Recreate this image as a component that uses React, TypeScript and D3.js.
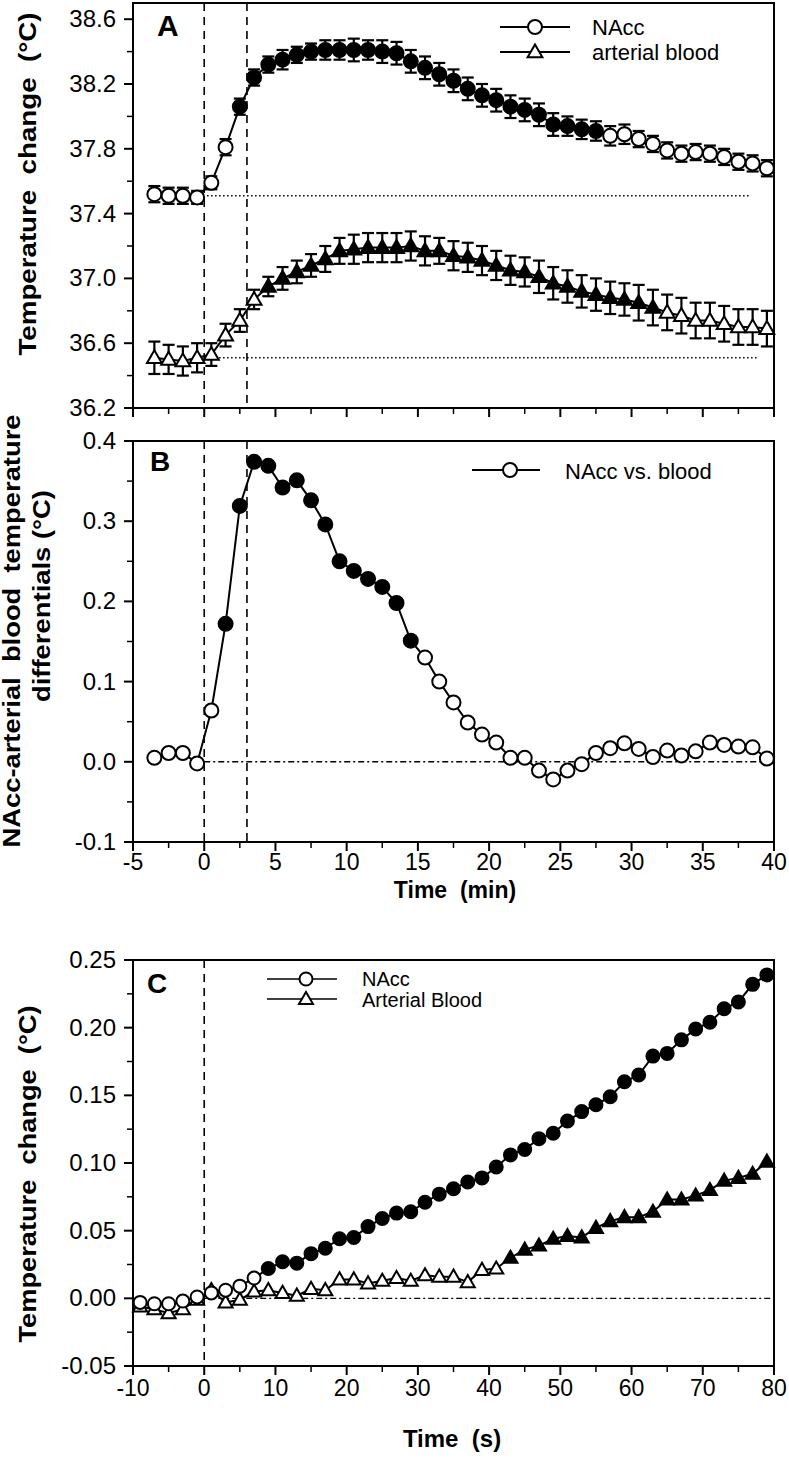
import React from 'react';
import * as d3 from 'd3';

// ---------- Panel A & B: time in minutes ----------
const timeMin = [
  -3.5, -2.5, -1.5, -0.5, 0.5, 1.5, 2.5, 3.5, 4.5, 5.5, 6.5, 7.5, 8.5, 9.5, 10.5,
  11.5, 12.5, 13.5, 14.5, 15.5, 16.5, 17.5, 18.5, 19.5, 20.5, 21.5, 22.5, 23.5,
  24.5, 25.5, 26.5, 27.5, 28.5, 29.5, 30.5, 31.5, 32.5, 33.5, 34.5, 35.5, 36.5,
  37.5, 38.5, 39.5,
];
const nAccA = [
  37.52, 37.51, 37.51, 37.5, 37.59, 37.81, 38.06, 38.24, 38.32, 38.35, 38.38, 38.4,
  38.41, 38.41, 38.41, 38.41, 38.4, 38.39, 38.34, 38.3, 38.26, 38.22, 38.17, 38.13,
  38.1, 38.06, 38.04, 38.01, 37.95, 37.94, 37.92, 37.91, 37.88, 37.89, 37.86, 37.83,
  37.79, 37.77, 37.78, 37.77, 37.75, 37.72, 37.71, 37.68,
];
const nAccAErr = [
  0.05, 0.05, 0.05, 0.04, 0.04, 0.05, 0.05, 0.05, 0.05, 0.06, 0.05, 0.05, 0.06, 0.06,
  0.07, 0.06, 0.07, 0.07, 0.07, 0.07, 0.07, 0.07, 0.07, 0.07, 0.07, 0.07, 0.07, 0.07,
  0.07, 0.06, 0.06, 0.06, 0.06, 0.06, 0.05, 0.05, 0.05, 0.05, 0.05, 0.05, 0.05, 0.05,
  0.05, 0.05,
];
const bloodA = [
  36.51, 36.5, 36.49, 36.51, 36.53, 36.65, 36.74, 36.87, 36.95, 37.0, 37.04, 37.08,
  37.12, 37.17, 37.18, 37.19, 37.19, 37.19, 37.2, 37.17, 37.17, 37.14, 37.13, 37.11,
  37.08, 37.05, 37.04, 37.01, 36.97, 36.95, 36.92, 36.9, 36.88, 36.87, 36.85, 36.82,
  36.79, 36.77, 36.74, 36.74, 36.72, 36.7, 36.7, 36.69,
];
const bloodAErr = [
  0.1, 0.09, 0.09, 0.09, 0.07, 0.07, 0.07, 0.06, 0.06, 0.07, 0.07, 0.07, 0.08, 0.08,
  0.09, 0.09, 0.09, 0.09, 0.09, 0.09, 0.08, 0.09, 0.09, 0.09, 0.09, 0.09, 0.09, 0.1,
  0.1, 0.1, 0.1, 0.1, 0.1, 0.1, 0.11, 0.11, 0.11, 0.11, 0.11, 0.11, 0.11, 0.11, 0.11,
  0.11,
];
const nAccAFilled = [2.5, 27.5];
const bloodAFilled = [4.5, 31.5];
const baselineA = [37.51, 36.51];

const diffB = [
  0.005, 0.011, 0.011, -0.002, 0.064, 0.172, 0.319, 0.374, 0.369, 0.342, 0.351, 0.326,
  0.296, 0.25, 0.238, 0.228, 0.218, 0.198, 0.151, 0.13, 0.1, 0.074, 0.049, 0.034,
  0.024, 0.005, 0.005, -0.011, -0.022, -0.011, -0.003, 0.011, 0.017, 0.023, 0.016,
  0.006, 0.014, 0.008, 0.013, 0.024, 0.021, 0.019, 0.018, 0.004,
];
const diffBFilled = [1.5, 14.5];

// ---------- Panel C: time in seconds ----------
const timeSec = [
  -9, -7, -5, -3, -1, 1, 3, 5, 7, 9, 11, 13, 15, 17, 19, 21, 23, 25, 27, 29, 31, 33,
  35, 37, 39, 41, 43, 45, 47, 49, 51, 53, 55, 57, 59, 61, 63, 65, 67, 69, 71, 73, 75,
  77, 79,
];
const nAccC = [
  -0.003, -0.004, -0.004, -0.002, 0.001, 0.004, 0.006, 0.009, 0.015, 0.022, 0.027,
  0.026, 0.033, 0.037, 0.044, 0.045, 0.053, 0.059, 0.063, 0.064, 0.071, 0.077, 0.081,
  0.086, 0.089, 0.097, 0.106, 0.11, 0.118, 0.122, 0.131, 0.138, 0.143, 0.149, 0.16,
  0.165, 0.179, 0.181, 0.191, 0.199, 0.204, 0.214, 0.219, 0.232, 0.239,
];
const bloodC = [
  -0.006, -0.008, -0.011, -0.008, -0.001, 0.006, -0.003, -0.001, 0.005, 0.006, 0.004,
  0.002, 0.007, 0.006, 0.014, 0.014, 0.011, 0.013, 0.015, 0.013, 0.017, 0.016, 0.016,
  0.012, 0.021, 0.022, 0.03, 0.036, 0.039, 0.044, 0.046, 0.045, 0.052, 0.057, 0.06,
  0.06, 0.064, 0.073, 0.073, 0.076, 0.08, 0.087, 0.089, 0.092, 0.101,
];
const nAccCFilledFrom = 9;
const bloodCFilledFrom = 43;

// ---------- Ticks ----------
const yTicksA = [36.2, 36.6, 37.0, 37.4, 37.8, 38.2, 38.6];
const yMinorA = [36.4, 36.8, 37.2, 37.6, 38.0, 38.4];
const yTicksB = [-0.1, 0.0, 0.1, 0.2, 0.3, 0.4];
const yMinorB = [-0.05, 0.05, 0.15, 0.25, 0.35];
const yTicksC = [-0.05, 0.0, 0.05, 0.1, 0.15, 0.2, 0.25];
const yMinorC = [-0.025, 0.025, 0.075, 0.125, 0.175, 0.225];
const xTicksMin = [-5, 0, 5, 10, 15, 20, 25, 30, 35, 40];
const xMinorMin = [-2.5, 2.5, 7.5, 12.5, 17.5, 22.5, 27.5, 32.5, 37.5];
const xTicksSec = [-10, 0, 10, 20, 30, 40, 50, 60, 70, 80];
const xMinorSec = [-5, 5, 15, 25, 35, 45, 55, 65, 75];
const stimLinesMin = [0, 3];

const FONT = "'Liberation Sans', Arial, Helvetica, sans-serif";

type Scale = d3.ScaleLinear<number, number>;

function Frame({ x, y, yTicks, yMinor, yFmt, xTicks, xMinor, xLabels, xLabelDy }: {
  x: Scale; y: Scale; yTicks: number[]; yMinor: number[]; yFmt: (v: number) => string;
  xTicks: number[]; xMinor: number[]; xLabels: boolean; xLabelDy: number;
}) {
  const [x0, x1] = x.range();
  const [yb, yt] = y.range();
  return (
    <g>
      <rect x={x0} y={yt} width={x1 - x0} height={yb - yt} fill="none" stroke="#000" strokeWidth={2} />
      {yTicks.map((t) => (
        <g key={'yt' + t}>
          <line x1={x0 - 9} x2={x0} y1={y(t)} y2={y(t)} stroke="#000" strokeWidth={2} />
          <text x={x0 - 17} y={y(t) + 8} textAnchor="end" fontSize={24} fontFamily={FONT}>
            {yFmt(t)}
          </text>
        </g>
      ))}
      {yMinor.map((t) => (
        <line key={'ym' + t} x1={x0 - 6} x2={x0} y1={y(t)} y2={y(t)} stroke="#000" strokeWidth={1.5} />
      ))}
      {xTicks.map((t) => (
        <g key={'xt' + t}>
          <line x1={x(t)} x2={x(t)} y1={yb} y2={yb + 9} stroke="#000" strokeWidth={2} />
          {xLabels && (
            <text x={x(t)} y={yb + xLabelDy} textAnchor="middle" fontSize={23} fontFamily={FONT}>
              {String(t)}
            </text>
          )}
        </g>
      ))}
      {xMinor.map((t) => (
        <line key={'xm' + t} x1={x(t)} x2={x(t)} y1={yb} y2={yb + 6} stroke="#000" strokeWidth={1.5} />
      ))}
    </g>
  );
}

const triPath = (size: number) => d3.symbol().type(d3.symbolTriangle).size(size)() as string;

function Circle({ cx, cy, r, filled }: { cx: number; cy: number; r: number; filled: boolean }) {
  return <circle cx={cx} cy={cy} r={r} fill={filled ? '#000' : '#fff'} stroke="#000" strokeWidth={2} />;
}
function Tri({ cx, cy, size, filled }: { cx: number; cy: number; size: number; filled: boolean }) {
  return (
    <path d={triPath(size)} transform={`translate(${cx},${cy + 1})`} fill={filled ? '#000' : '#fff'}
      stroke="#000" strokeWidth={2} strokeLinejoin="miter" />
  );
}

function ErrBars({ xs, ys, errs, x, y }: { xs: number[]; ys: number[]; errs: number[]; x: Scale; y: Scale }) {
  return (
    <g stroke="#000" strokeWidth={2.2}>
      {xs.map((t, i) => {
        const cx = x(t);
        const top = y(ys[i] + errs[i]);
        const bot = y(ys[i] - errs[i]);
        return (
          <g key={i}>
            <line x1={cx} x2={cx} y1={top} y2={bot} />
            <line x1={cx - 6} x2={cx + 6} y1={top} y2={top} />
            <line x1={cx - 6} x2={cx + 6} y1={bot} y2={bot} />
          </g>
        );
      })}
    </g>
  );
}

export default function App() {
  const left = 133;
  const right = 774;
  const xMin = d3.scaleLinear().domain([-5, 40]).range([left, right]);
  const xSec = d3.scaleLinear().domain([-10, 80]).range([left, right]);
  const yA = d3.scaleLinear().domain([36.2, 38.7]).range([408, 3]);
  const yB = d3.scaleLinear().domain([-0.1, 0.4]).range([842, 441]);
  const yC = d3.scaleLinear().domain([-0.05, 0.25]).range([1366, 960]);

  const lineA = d3.line<[number, number]>().x((d) => xMin(d[0])).y((d) => yA(d[1]));
  const lineB = d3.line<[number, number]>().x((d) => xMin(d[0])).y((d) => yB(d[1]));
  const lineC = d3.line<[number, number]>().x((d) => xSec(d[0])).y((d) => yC(d[1]));

  const zip = (xs: number[], ys: number[]) => xs.map((t, i) => [t, ys[i]] as [number, number]);

  return (
    <svg width={789} height={1461} viewBox="0 0 789 1461"
      style={{ position: 'absolute', left: 0, top: 0, background: '#fff' }}>
      <rect x={0} y={0} width={789} height={1461} fill="#fff" />

      {/* ===== Panel A ===== */}
      {stimLinesMin.map((t) => (
        <line key={'sa' + t} x1={xMin(t)} x2={xMin(t)} y1={yA.range()[1]} y2={yA.range()[0]}
          stroke="#000" strokeWidth={1.6} strokeDasharray="8,6" />
      ))}
      <line x1={xMin(0.2)} x2={xMin(38.3)} y1={yA(baselineA[0])} y2={yA(baselineA[0])}
        stroke="#000" strokeWidth={1.6} strokeDasharray="1.5,2.5" />
      <line x1={xMin(0.2)} x2={xMin(38.8)} y1={yA(baselineA[1])} y2={yA(baselineA[1])}
        stroke="#000" strokeWidth={1.6} strokeDasharray="1.5,2.5" />
      <path d={lineA(zip(timeMin, nAccA)) as string} fill="none" stroke="#000" strokeWidth={2} />
      <path d={lineA(zip(timeMin, bloodA)) as string} fill="none" stroke="#000" strokeWidth={2} />
      <ErrBars xs={timeMin} ys={nAccA} errs={nAccAErr} x={xMin} y={yA} />
      <ErrBars xs={timeMin} ys={bloodA} errs={bloodAErr} x={xMin} y={yA} />
      {timeMin.map((t, i) => (
        <Circle key={'ca' + i} cx={xMin(t)} cy={yA(nAccA[i])} r={7}
          filled={t >= nAccAFilled[0] && t <= nAccAFilled[1]} />
      ))}
      {timeMin.map((t, i) => (
        <Tri key={'ta' + i} cx={xMin(t)} cy={yA(bloodA[i])} size={95}
          filled={t >= bloodAFilled[0] && t <= bloodAFilled[1]} />
      ))}
      <Frame x={xMin} y={yA} yTicks={yTicksA} yMinor={yMinorA} yFmt={(v) => v.toFixed(1)}
        xTicks={xTicksMin} xMinor={xMinorMin} xLabels={false} xLabelDy={0} />
      <text x={157} y={36} fontSize={30} fontWeight="bold" fontFamily={FONT}>A</text>
      {/* legend A */}
      <line x1={500} x2={570} y1={27} y2={27} stroke="#000" strokeWidth={2} />
      <Circle cx={535} cy={27} r={7} filled={false} />
      <text x={592} y={35} fontSize={22} fontFamily={FONT}>NAcc</text>
      <line x1={500} x2={570} y1={52} y2={52} stroke="#000" strokeWidth={2} />
      <Tri cx={535} cy={52} size={95} filled={false} />
      <text x={592} y={60} fontSize={22} fontFamily={FONT}>arterial blood</text>
      <text transform="translate(36,184) rotate(-90)" textAnchor="middle" fontSize={24} fontWeight="bold"
        fontFamily={FONT} textLength={343} lengthAdjust="spacingAndGlyphs" style={{ whiteSpace: 'pre' }}>
        {'Temperature  change  (°C)'}
      </text>

      {/* ===== Panel B ===== */}
      {stimLinesMin.map((t) => (
        <line key={'sb' + t} x1={xMin(t)} x2={xMin(t)} y1={yB.range()[1]} y2={yB.range()[0]}
          stroke="#000" strokeWidth={1.6} strokeDasharray="8,6" />
      ))}
      <line x1={xMin(0)} x2={xMin(40)} y1={yB(0)} y2={yB(0)} stroke="#000" strokeWidth={1.4}
        strokeDasharray="6,3,2,3" />
      <path d={lineB(zip(timeMin, diffB)) as string} fill="none" stroke="#000" strokeWidth={2} />
      {timeMin.map((t, i) => (
        <Circle key={'cb' + i} cx={xMin(t)} cy={yB(diffB[i])} r={7}
          filled={t >= diffBFilled[0] && t <= diffBFilled[1]} />
      ))}
      <Frame x={xMin} y={yB} yTicks={yTicksB} yMinor={yMinorB} yFmt={(v) => v.toFixed(1)}
        xTicks={xTicksMin} xMinor={xMinorMin} xLabels={true} xLabelDy={28} />
      <text x={150} y={471} fontSize={28} fontWeight="bold" fontFamily={FONT}>B</text>
      <line x1={472} x2={540} y1={470} y2={470} stroke="#000" strokeWidth={2} />
      <Circle cx={510} cy={470} r={7} filled={false} />
      <text x={565} y={479} fontSize={22} fontFamily={FONT}>NAcc vs. blood</text>
      <text transform="translate(20,631) rotate(-90)" textAnchor="middle" fontSize={23} fontWeight="bold"
        fontFamily={FONT} textLength={433} lengthAdjust="spacingAndGlyphs" style={{ whiteSpace: 'pre' }}>
        {'NAcc-arterial  blood  temperature'}
      </text>
      <text transform="translate(50,596) rotate(-90)" textAnchor="middle" fontSize={23} fontWeight="bold"
        fontFamily={FONT} textLength={212} lengthAdjust="spacingAndGlyphs" style={{ whiteSpace: 'pre' }}>
        {'differentials (°C)'}
      </text>
      <text x={455} y={898} textAnchor="middle" fontSize={23} fontWeight="bold" fontFamily={FONT}
        style={{ whiteSpace: 'pre' }}>
        {'Time  (min)'}
      </text>

      {/* ===== Panel C ===== */}
      <line x1={xSec(0)} x2={xSec(0)} y1={yC.range()[1]} y2={yC.range()[0]} stroke="#000" strokeWidth={1.6}
        strokeDasharray="8,6" />
      <line x1={xSec(0)} x2={xSec(80)} y1={yC(0)} y2={yC(0)} stroke="#000" strokeWidth={1.4}
        strokeDasharray="6,3,2,3" />
      <path d={lineC(zip(timeSec, nAccC)) as string} fill="none" stroke="#000" strokeWidth={2} />
      <path d={lineC(zip(timeSec, bloodC)) as string} fill="none" stroke="#000" strokeWidth={2} />
      {timeSec.map((t, i) => (
        <Tri key={'tc' + i} cx={xSec(t)} cy={yC(bloodC[i])} size={85} filled={t >= bloodCFilledFrom} />
      ))}
      {timeSec.map((t, i) => (
        <Circle key={'cc' + i} cx={xSec(t)} cy={yC(nAccC[i])} r={6.5} filled={t >= nAccCFilledFrom} />
      ))}
      <Frame x={xSec} y={yC} yTicks={yTicksC} yMinor={yMinorC} yFmt={(v) => v.toFixed(2)}
        xTicks={xTicksSec} xMinor={xMinorSec} xLabels={true} xLabelDy={30} />
      <text x={147} y={993} fontSize={28} fontWeight="bold" fontFamily={FONT}>C</text>
      <line x1={267} x2={337} y1={979} y2={979} stroke="#000" strokeWidth={1.6} />
      <Circle cx={306} cy={979} r={6.5} filled={false} />
      <text x={362} y={986} fontSize={20} fontFamily={FONT}>NAcc</text>
      <line x1={267} x2={337} y1={999} y2={999} stroke="#000" strokeWidth={1.6} />
      <Tri cx={306} cy={999} size={85} filled={false} />
      <text x={362} y={1007} fontSize={20} fontFamily={FONT}>Arterial Blood</text>
      <text transform="translate(36,1174) rotate(-90)" textAnchor="middle" fontSize={24} fontWeight="bold"
        fontFamily={FONT} textLength={337} lengthAdjust="spacingAndGlyphs" style={{ whiteSpace: 'pre' }}>
        {'Temperature  change  (°C)'}
      </text>
      <text x={452} y={1447} textAnchor="middle" fontSize={24} fontWeight="bold" fontFamily={FONT}
        style={{ whiteSpace: 'pre' }}>
        {'Time  (s)'}
      </text>
    </svg>
  );
}
